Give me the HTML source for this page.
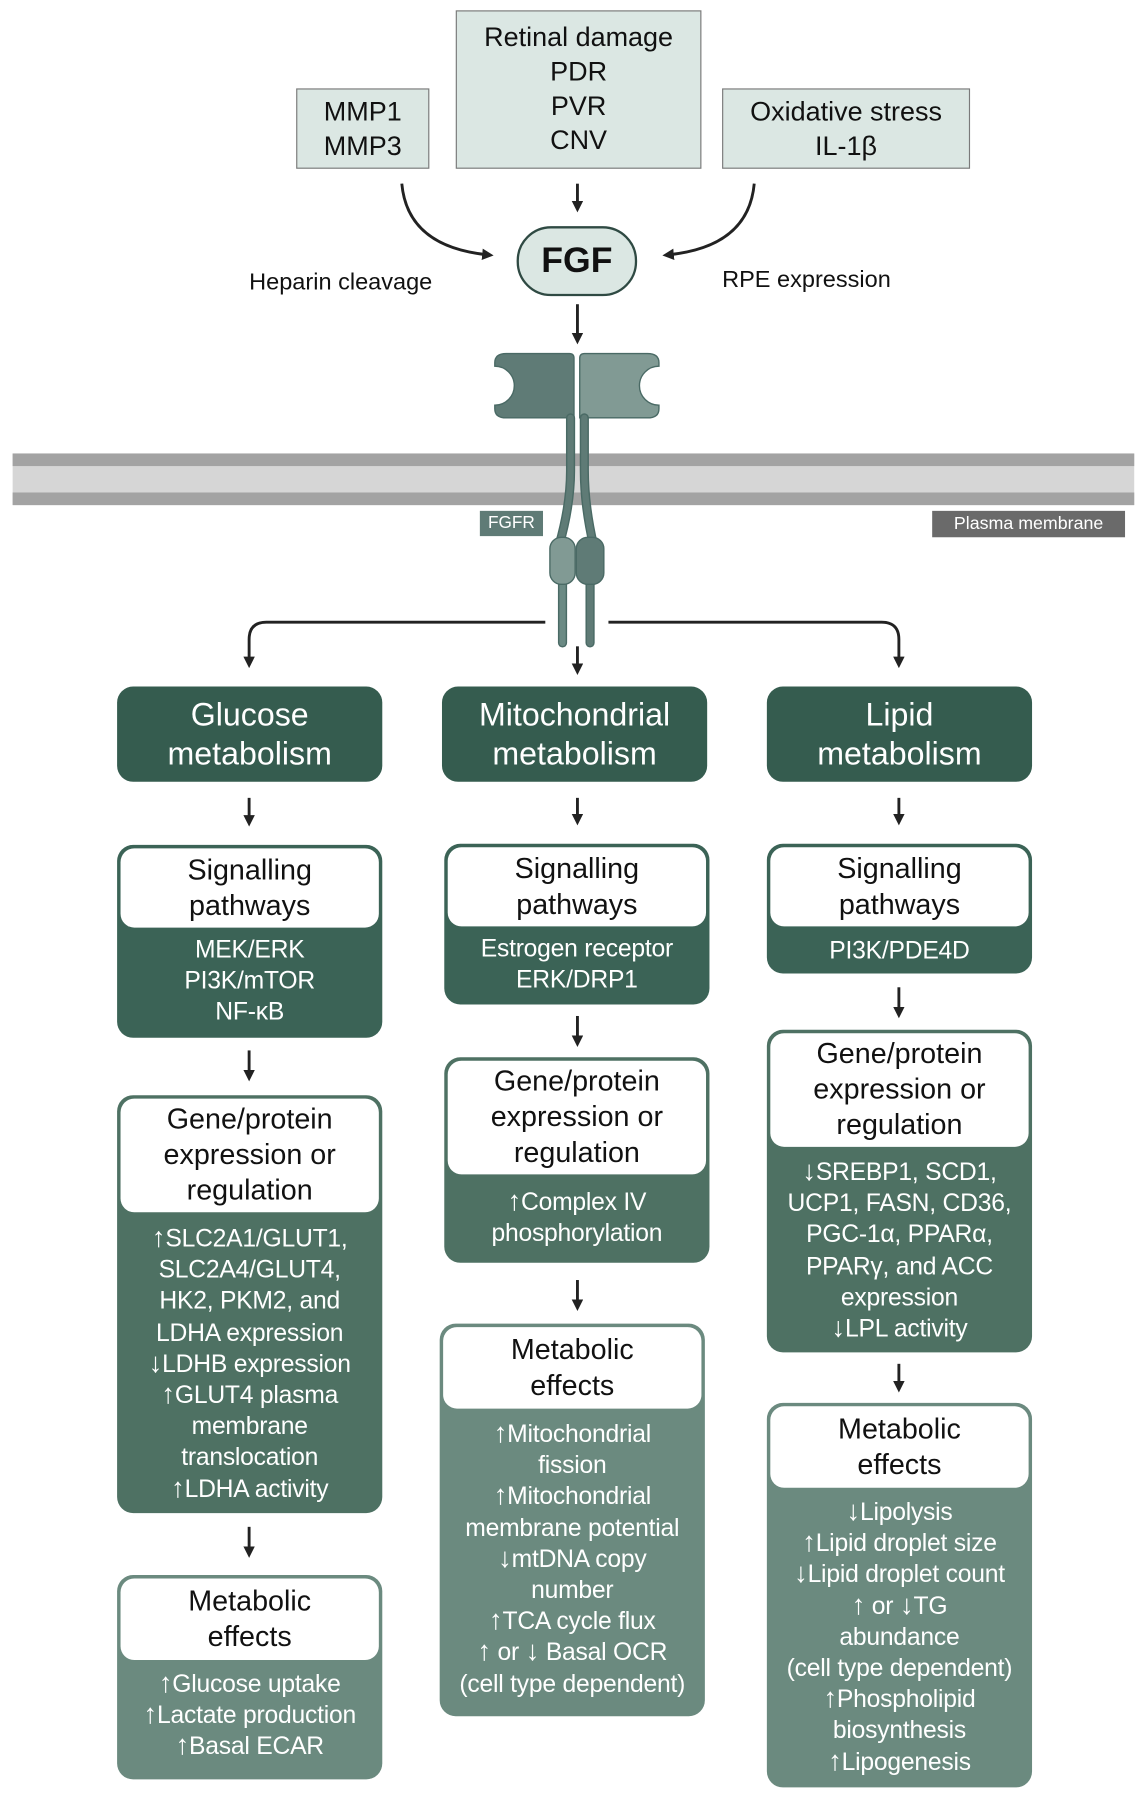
<!DOCTYPE html>
<html><head><meta charset="utf-8"><style>
html,body{margin:0;padding:0;background:#fff;}
body{width:1148px;height:1800px;overflow:hidden;position:relative;}
#s{position:absolute;left:0;top:0;width:1000px;height:1568px;transform:scale(1.148);transform-origin:0 0;font-family:"Liberation Sans",Arial,sans-serif;}
.a{position:absolute;}
.lb{position:absolute;background:#dbe7e3;border:1.5px solid #7a7a7a;box-sizing:border-box;display:flex;flex-direction:column;justify-content:center;align-items:center;font-size:23.5px;line-height:30px;color:#111;text-align:center;}
.hd{position:absolute;background:#355c4f;border-radius:14px;color:#fff;font-size:28px;line-height:34px;text-align:center;display:flex;flex-direction:column;justify-content:center;}
.bx{position:absolute;border-radius:14px;box-sizing:border-box;color:#fff;text-align:center;}
.wt{position:absolute;left:3px;right:3px;top:3px;background:#fff;border-radius:12px;color:#111;display:flex;flex-direction:column;justify-content:center;font-size:25px;line-height:31px;}
.bd{position:absolute;left:0;right:0;font-size:21.5px;line-height:27.2px;white-space:nowrap;letter-spacing:-0.2px;}
.ar{font-size:24px;line-height:1px;}
</style></head><body><div id="s">
<svg class="a" style="left:0;top:0" width="1000" height="1568">
<defs><marker id="ah" markerWidth="10" markerHeight="10" refX="5" refY="5" orient="auto" markerUnits="userSpaceOnUse"><path d="M0,0 L10,5 L0,10 z" fill="#222"/></marker></defs>
<g stroke="#222" stroke-width="2.5" fill="none">
<line x1="503" y1="160" x2="503" y2="180" marker-end="url(#ah)"/>
<path d="M350,160 Q355,215 425,222" marker-end="url(#ah)"/>
<path d="M657,160 Q652,215 582,222" marker-end="url(#ah)"/>
<line x1="503" y1="265" x2="503" y2="295" marker-end="url(#ah)"/>
<path d="M475,542 L232,542 Q217,542 217,557 L217,577" marker-end="url(#ah)"/>
<path d="M530,542 L768,542 Q783,542 783,557 L783,577" marker-end="url(#ah)"/>
<line x1="503" y1="563" x2="503" y2="583" marker-end="url(#ah)"/>
<line x1="217" y1="695" x2="217" y2="715" marker-end="url(#ah)"/>
<line x1="503" y1="695" x2="503" y2="714" marker-end="url(#ah)"/>
<line x1="783" y1="695" x2="783" y2="714" marker-end="url(#ah)"/>
<line x1="217" y1="915" x2="217" y2="937" marker-end="url(#ah)"/>
<line x1="503" y1="885" x2="503" y2="907" marker-end="url(#ah)"/>
<line x1="783" y1="860" x2="783" y2="882" marker-end="url(#ah)"/>
<line x1="217" y1="1330" x2="217" y2="1352" marker-end="url(#ah)"/>
<line x1="503" y1="1115" x2="503" y2="1137" marker-end="url(#ah)"/>
<line x1="783" y1="1188" x2="783" y2="1208" marker-end="url(#ah)"/>
</g>
<rect x="11" y="395" width="977" height="45" fill="#d6d6d6"/>
<rect x="11" y="395" width="977" height="11" fill="#a3a3a3"/>
<rect x="11" y="429" width="977" height="11" fill="#a3a3a3"/>
<g stroke="#4a6a65" stroke-width="1.2">
<path d="M500,312 L500,364 L441,364 Q431,364 431,356 L431,353 A17,17 0 0 0 431,319 L431,316 Q431,308 441,308 L496,308 Q500,308 500,312 z" fill="#5f7b76"/>
<path d="M505,312 L505,364 L564,364 Q574,364 574,356 L574,353 A17,17 0 0 1 574,319 L574,316 Q574,308 564,308 L509,308 Q505,308 505,312 z" fill="#819a94"/>
</g>
<g fill="none" stroke-linecap="round">
<path d="M497,364 L497,410 Q497,440 487,475" stroke="#4a6a65" stroke-width="8"/>
<path d="M497,364 L497,410 Q497,440 487,475" stroke="#5f7b76" stroke-width="5.5"/>
<path d="M509,364 L509,410 Q509,440 517,475" stroke="#4a6a65" stroke-width="8"/>
<path d="M509,364 L509,410 Q509,440 517,475" stroke="#5f7b76" stroke-width="5.5"/>
<line x1="490" y1="505" x2="490" y2="560" stroke="#4a6a65" stroke-width="8"/>
<line x1="490" y1="505" x2="490" y2="560" stroke="#6b8a84" stroke-width="5.5"/>
<line x1="514" y1="505" x2="514" y2="560" stroke="#4a6a65" stroke-width="8"/>
<line x1="514" y1="505" x2="514" y2="560" stroke="#5f7b76" stroke-width="5.5"/>
</g>
<rect x="479" y="468" width="22" height="41" rx="10" fill="#819a94" stroke="#4a6a65" stroke-width="1.2"/>
<rect x="502" y="468" width="24" height="41" rx="10" fill="#5f7b76" stroke="#4a6a65" stroke-width="1.2"/>
</svg>

<div class="lb" style="left:258px;top:77px;width:116px;height:70px;">MMP1<br>MMP3</div>
<div class="lb" style="left:397px;top:9px;width:214px;height:138px;justify-content:flex-start;padding-top:7px;">Retinal damage<br>PDR<br>PVR<br>CNV</div>
<div class="lb" style="left:629px;top:77px;width:216px;height:70px;">Oxidative stress<br>IL-1β</div>
<div class="a" style="left:450px;top:197px;width:105px;height:61px;box-sizing:border-box;border:2.5px solid #2f4a43;border-radius:30px;background:#dbe7e3;font-weight:bold;font-size:31px;line-height:56px;text-align:center;color:#111;">FGF</div>
<div class="a" style="left:217px;top:234px;font-size:20.5px;color:#111;">Heparin cleavage</div>
<div class="a" style="left:629px;top:232px;font-size:20.5px;color:#111;">RPE expression</div>
<div class="a" style="left:418px;top:445px;width:55px;height:22px;background:#5f7b76;color:#fff;font-size:15px;line-height:22px;text-align:center;">FGFR</div>
<div class="a" style="left:812px;top:445px;width:168px;height:23px;background:#6a6a6a;color:#fff;font-size:15.5px;line-height:23px;text-align:center;">Plasma membrane</div>

<div class="hd" style="left:102px;top:598px;width:231px;height:83px;">Glucose<br>metabolism</div>
<div class="hd" style="left:385px;top:598px;width:231px;height:83px;">Mitochondrial<br>metabolism</div>
<div class="hd" style="left:668px;top:598px;width:231px;height:83px;">Lipid<br>metabolism</div>

<!-- col1 -->
<div class="bx" style="left:102px;top:736px;width:231px;height:168px;background:#3b6356;"><div class="wt" style="height:69px;">Signalling<br>pathways</div><div class="bd" style="top:78px;">MEK/ERK<br>PI3K/mTOR<br>NF-κB</div></div>
<div class="bx" style="left:102px;top:954px;width:231px;height:364px;background:#4e7163;"><div class="wt" style="height:99px;">Gene/protein<br>expression or<br>regulation</div><div class="bd" style="top:112px;"><span class="ar">↑</span>SLC2A1/GLUT1,<br>SLC2A4/GLUT4,<br>HK2, PKM2, and<br>LDHA expression<br><span class="ar">↓</span>LDHB expression<br><span class="ar">↑</span>GLUT4 plasma<br>membrane<br>translocation<br><span class="ar">↑</span>LDHA activity</div></div>
<div class="bx" style="left:102px;top:1372px;width:231px;height:178px;background:#6b8a7f;"><div class="wt" style="height:71px;">Metabolic<br>effects</div><div class="bd" style="top:82px;"><span class="ar">↑</span>Glucose uptake<br><span class="ar">↑</span>Lactate production<br><span class="ar">↑</span>Basal ECAR</div></div>

<!-- col2 -->
<div class="bx" style="left:387px;top:735px;width:231px;height:140px;background:#3b6356;"><div class="wt" style="height:69px;">Signalling<br>pathways</div><div class="bd" style="top:78px;">Estrogen receptor<br>ERK/DRP1</div></div>
<div class="bx" style="left:387px;top:921px;width:231px;height:179px;background:#4e7163;"><div class="wt" style="height:99px;">Gene/protein<br>expression or<br>regulation</div><div class="bd" style="top:113px;"><span class="ar">↑</span>Complex IV<br>phosphorylation</div></div>
<div class="bx" style="left:383px;top:1153px;width:231px;height:342px;background:#6b8a7f;"><div class="wt" style="height:71px;">Metabolic<br>effects</div><div class="bd" style="top:83px;"><span class="ar">↑</span>Mitochondrial<br>fission<br><span class="ar">↑</span>Mitochondrial<br>membrane potential<br><span class="ar">↓</span>mtDNA copy<br>number<br><span class="ar">↑</span>TCA cycle flux<br><span class="ar">↑</span> or <span class="ar">↓</span> Basal OCR<br>(cell type dependent)</div></div>

<!-- col3 -->
<div class="bx" style="left:668px;top:735px;width:231px;height:113px;background:#3b6356;"><div class="wt" style="height:69px;">Signalling<br>pathways</div><div class="bd" style="top:80px;">PI3K/PDE4D</div></div>
<div class="bx" style="left:668px;top:897px;width:231px;height:281px;background:#4e7163;"><div class="wt" style="height:99px;">Gene/protein<br>expression or<br>regulation</div><div class="bd" style="top:111px;"><span class="ar">↓</span>SREBP1, SCD1,<br>UCP1, FASN, CD36,<br>PGC-1α, PPARα,<br>PPARγ, and ACC<br>expression<br><span class="ar">↓</span>LPL activity</div></div>
<div class="bx" style="left:668px;top:1222px;width:231px;height:335px;background:#6b8a7f;"><div class="wt" style="height:71px;">Metabolic<br>effects</div><div class="bd" style="top:82px;"><span class="ar">↓</span>Lipolysis<br><span class="ar">↑</span>Lipid droplet size<br><span class="ar">↓</span>Lipid droplet count<br><span class="ar">↑</span> or <span class="ar">↓</span>TG<br>abundance<br>(cell type dependent)<br><span class="ar">↑</span>Phospholipid<br>biosynthesis<br><span class="ar">↑</span>Lipogenesis</div></div>
</div></body></html>
